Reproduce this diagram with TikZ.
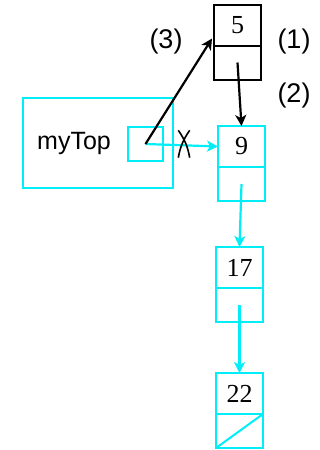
\documentclass[tikz,border=0pt]{standalone}
\usepackage{fontspec}
\setmainfont{Liberation Serif}
\setsansfont{Liberation Sans}
\usetikzlibrary{positioning,arrows,arrows.meta}

\definecolor{listcyan}{RGB}{0,238,248}

\begin{document}
\begin{tikzpicture}[
  x=1pt, y=-1pt,
  >={Stealth[length=11pt,width=11pt,inset=3pt]},
  cell/.style={draw,rectangle,line width=2pt,minimum width=47pt,minimum height=41pt,
    inner sep=0pt,outer sep=0pt,font=\fontsize{26}{26}\selectfont},
  link/.style={draw,rectangle,line width=2pt,minimum width=47pt,minimum height=34pt,
    inner sep=0pt,outer sep=0pt},
  ptr/.style={->,line width=2.2pt},
  note/.style={font=\sffamily\fontsize{27}{27}\selectfont}]
\useasboundingbox (0,0) rectangle (320,450);

% the pushed node
\node[cell] (n5) at (237.5,25) {5};
\node[link,below=0pt of n5] (n5p) {};

% the old list
\node[cell,draw=listcyan] (n9) at (241.5,146.5) {9};
\node[link,draw=listcyan,below=0pt of n9] (n9p) {};
\node[cell,draw=listcyan,below=46pt of n9p,xshift=-2pt] (n17) {17};
\node[link,draw=listcyan,below=0pt of n17] (n17p) {};
\node[cell,draw=listcyan,below=51pt of n17p] (n22) {22};
\node[link,draw=listcyan,below=0pt of n22] (n22p) {};

% the stack object
\node[draw=listcyan,line width=2pt,rectangle,minimum width=150pt,minimum height=90pt,outer sep=0pt] (stack) at (98,143) {};
\node[font=\sffamily\fontsize{25}{25}\selectfont] (mytop) at (74,143) {myTop};
\node[draw=listcyan,line width=2pt,rectangle,minimum width=35pt,minimum height=34pt,outer sep=0pt] (topptr) at (145.5,144) {};
\node[minimum width=11pt,minimum height=27pt,inner sep=0pt] (cut) at (184,144) {};

\node[note] (s1) at (294,42) {(1)};
\node[note] (s2) at (294,96) {(2)};
\node[note] (s3) at (166,42) {(3)};

\draw[ptr,listcyan] (topptr.center) -- (n9.west);
\draw[ptr,listcyan] (n9p.center) -- (n17.north);
\draw[ptr,listcyan] (n17p.center) -- (n22.north);
\draw[listcyan,line width=2pt] (n22p.south west) -- (n22p.north east);

\draw[ptr] (n5p.center) -- (n9.north);
\draw[ptr] (topptr.center) -- ([xshift=-2pt,yshift=7pt]n5.south west);

% crossed-out link
\draw[line width=1.6pt] (cut.north west) to[bend left=12] (cut.south east);
\draw[line width=1.6pt] (cut.north east) to[bend right=12] (cut.south west);
\end{tikzpicture}
\end{document}
